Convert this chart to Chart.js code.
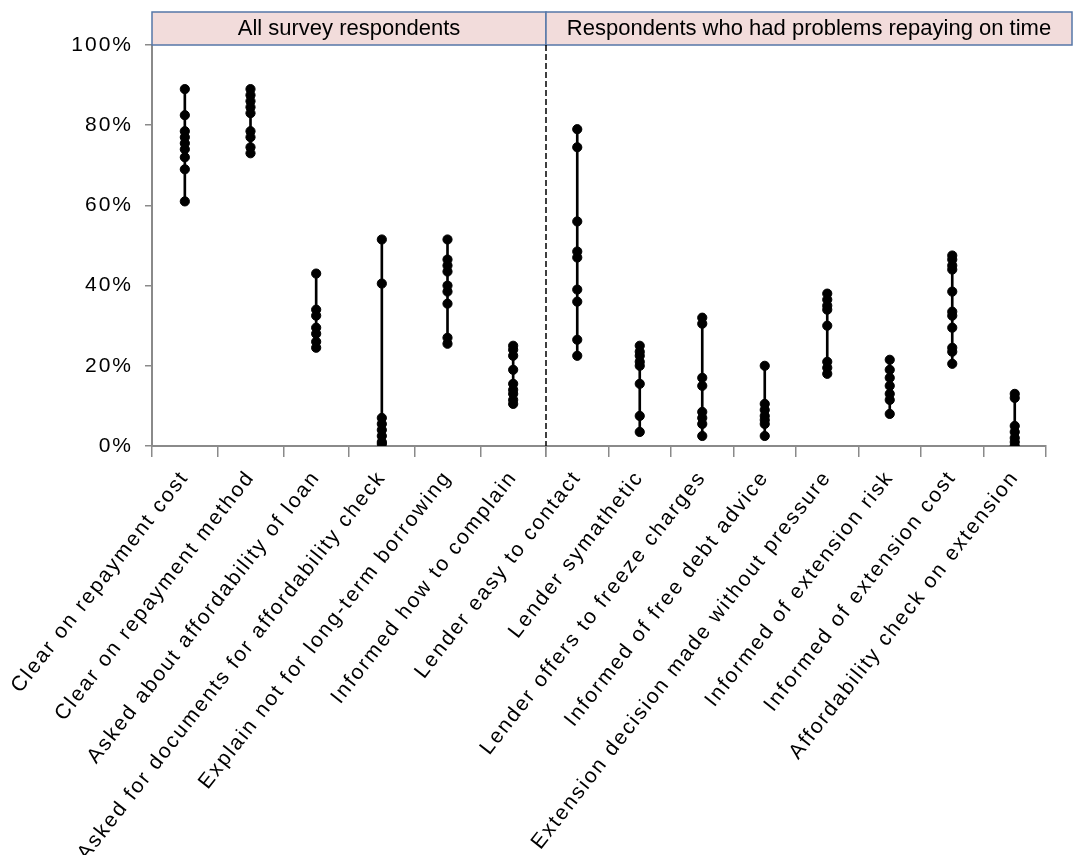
<!DOCTYPE html>
<html>
<head>
<meta charset="utf-8">
<script src="https://cdn.jsdelivr.net/npm/chart.js@4.4.0/dist/chart.umd.min.js"></script>
<style>
  html, body { margin: 0; padding: 0; background: #fff; }
  #wrap { position: relative; width: 1092px; height: 855px; }
  #wrap canvas { position: absolute; left: 0; top: 0; }
</style>
</head>
<body>
<div id="wrap">
  <canvas id="allChart" width="1092" height="855"></canvas>
  <canvas id="problemChart" width="1092" height="855"></canvas>
</div>
<script>
const groupTitles = ['All survey respondents', 'Respondents who had problems repaying on time'];

const allLabels = [
  'Clear on repayment cost',
  'Clear on repayment method',
  'Asked about affordability of loan',
  'Asked for documents for affordability check',
  'Explain not for long-term borrowing',
  'Informed how to complain'
];
const problemLabels = [
  'Lender easy to contact',
  'Lender symathetic',
  'Lender offers to freeze charges',
  'Informed of free debt advice',
  'Extension decision made without pressure',
  'Informed of extension risk',
  'Informed of extension cost',
  'Affordability check on extension'
];

// one inner array per category = the dots on that category (percent)
const allScores = [
  [89, 82.5, 78.5, 77, 75.5, 74, 72, 69, 61],
  [89, 87.5, 86, 84.5, 83, 78.5, 77, 74.5, 73],
  [43, 34, 32.5, 29.5, 28, 26, 24.5],
  [51.5, 40.5, 7, 5.5, 4, 2.5, 1, 0.5],
  [51.5, 46.5, 45, 43.5, 40, 38.5, 35.5, 27, 25.5],
  [25, 24, 22.5, 19, 15.5, 14, 13, 11.5, 10.5]
];
const problemScores = [
  [79, 74.5, 56, 48.5, 47, 39, 36, 26.5, 22.5],
  [25, 23.5, 22.5, 21, 20, 15.5, 7.5, 3.5],
  [32, 30.5, 17, 15, 8.5, 7, 5.5, 2.5],
  [20, 10.5, 9, 7.5, 6.5, 5.5, 2.5],
  [38, 36.5, 35, 34, 30, 21, 19.5, 18],
  [21.5, 19, 17, 15, 13, 11.5, 8],
  [47.5, 46.5, 45, 44, 38.5, 33.5, 32.5, 29.5, 24.5, 23.5, 20.5],
  [13, 12, 5, 3.5, 2, 1, 0]
];

const yTicks = [0, 20, 40, 60, 80, 100];

Chart.defaults.font.family = '"Liberation Sans", Arial, sans-serif';
Chart.defaults.color = '#000';

const axisGray = '#8a8a8a';

// wide glyph spacing like the reference picture
const spacingPlugin = {
  id: 'spacing',
  beforeDraw(chart) {
    chart.ctx.letterSpacing = '2px';
  }
};

const headerPlugin = {
  id: 'header',
  afterDraw(chart, args, opts) {
    const ctx = chart.ctx;
    const a = chart.chartArea;
    const x0 = a.left;
    const x1 = a.right + opts.extraRight;
    const top = a.top - 33;
    ctx.save();
    ctx.letterSpacing = '0px';
    ctx.fillStyle = '#f2dcdb';
    ctx.fillRect(x0, top, x1 - x0, 33);
    ctx.strokeStyle = '#5677a8';
    ctx.lineWidth = 1.5;
    ctx.strokeRect(x0, top, x1 - x0, 33);
    ctx.fillStyle = '#000';
    ctx.font = '22px "Liberation Sans", Arial, sans-serif';
    ctx.textAlign = 'center';
    ctx.textBaseline = 'middle';
    ctx.fillText(opts.title, (x0 + x1) / 2, top + 17);
    if (opts.divider) {
      ctx.strokeStyle = '#000';
      ctx.lineWidth = 1.5;
      ctx.setLineDash([6, 3]);
      ctx.beginPath();
      ctx.moveTo(a.left, a.top);
      ctx.lineTo(a.left, a.bottom);
      ctx.stroke();
    }
    ctx.restore();
  }
};

function makeChart(id, labels, scores, title, cfg) {
  const ranges = scores.map(s => [Math.min(...s), Math.max(...s)]);
  const dots = [];
  scores.forEach((s, i) => s.forEach(v => dots.push({ x: labels[i], y: v })));

  return new Chart(document.getElementById(id), {
    type: 'bar',
    data: {
      labels: labels,
      datasets: [
        {
          type: 'line',
          data: dots,
          showLine: false,
          pointRadius: 4.6,
          pointHoverRadius: 4.6,
          pointBackgroundColor: '#000',
          pointBorderColor: '#000',
          pointBorderWidth: 1,
          order: 1
        },
        {
          type: 'bar',
          data: ranges,
          backgroundColor: '#000',
          barThickness: 2,
          order: 2
        }
      ]
    },
    options: {
      responsive: false,
      animation: false,
      devicePixelRatio: 1,
      layout: { padding: cfg.padding },
      plugins: {
        legend: { display: false },
        tooltip: { enabled: false },
        header: { title: title, extraRight: cfg.extraRight, divider: cfg.divider }
      },
      scales: {
        x: {
          type: 'category',
          offset: true,
          grid: {
            offset: true,
            drawOnChartArea: false,
            tickLength: 11,
            color: axisGray,
            lineWidth: 1.5
          },
          border: { color: axisGray, width: 2 },
          ticks: {
            autoSkip: false,
            minRotation: 52,
            maxRotation: 52,
            padding: 9,
            font: { size: 21 },
            color: '#000'
          },
          afterFit(scale) {
            scale.height = 409;
            scale.paddingLeft = 0;
            scale.paddingRight = 0;
          }
        },
        y: {
          display: cfg.showY,
          min: 0,
          max: 100,
          afterBuildTicks(scale) {
            scale.ticks = yTicks.map(v => ({ value: v }));
          },
          grid: {
            drawOnChartArea: false,
            tickLength: 7,
            color: axisGray,
            lineWidth: 1.5
          },
          border: { color: axisGray, width: 2 },
          ticks: {
            padding: 12,
            font: { size: 21 },
            color: '#000',
            callback: v => v + '%'
          },
          afterFit(scale) {
            scale.width = cfg.showY ? 152 : 0;
          }
        }
      }
    },
    plugins: [spacingPlugin, headerPlugin]
  });
}

makeChart('allChart', allLabels, allScores, groupTitles[0], {
  padding: { top: 45, left: 0, right: 546, bottom: 0 },
  showY: true,
  extraRight: 0,
  divider: false
});
makeChart('problemChart', problemLabels, problemScores, groupTitles[1], {
  padding: { top: 45, left: 546, right: 46, bottom: 0 },
  showY: false,
  extraRight: 26,
  divider: true
});
</script>
</body>
</html>
